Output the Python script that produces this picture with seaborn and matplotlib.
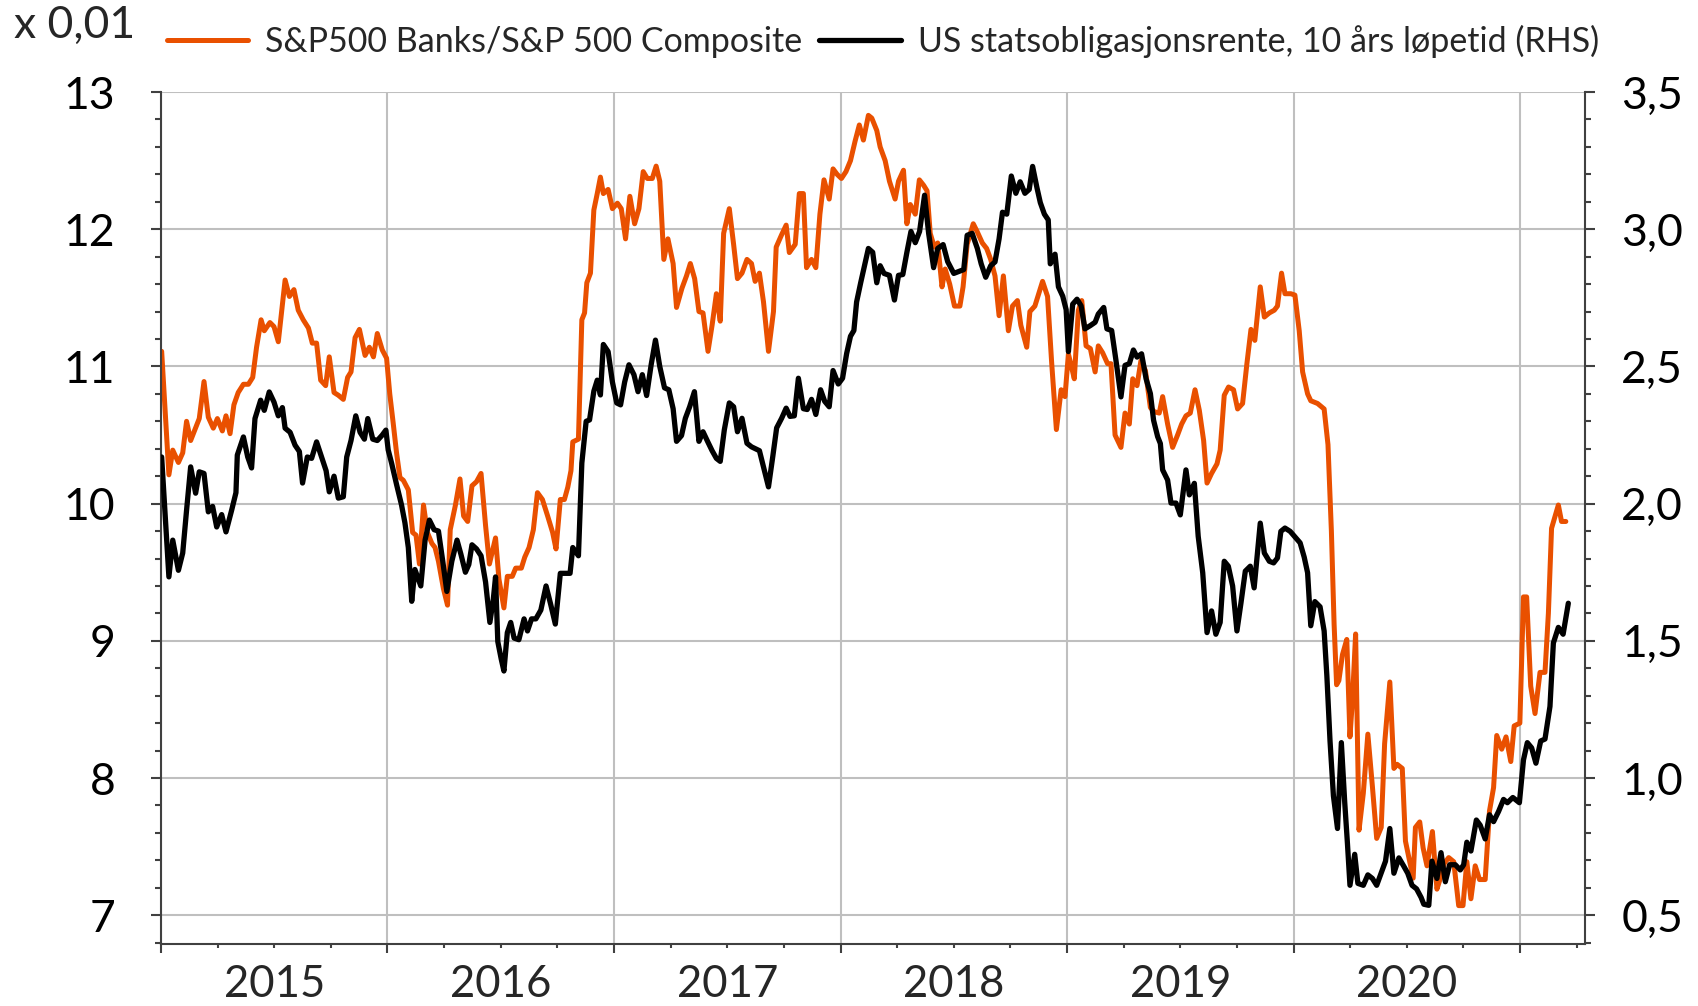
import matplotlib
matplotlib.use("Agg")
import matplotlib.pyplot as plt
import matplotlib.ticker as mticker
import seaborn as sns
import numpy as np
import pandas as pd

# Tid i år etter 1. jan 2015 (lest av grafen) og verdier
banks_t = [0.003, 0.035, 0.052, 0.077, 0.096, 0.113, 0.131, 0.169, 0.190, 0.209, 0.231, 0.249, 0.271, 0.287,
           0.305, 0.322, 0.341, 0.364, 0.386, 0.405, 0.422, 0.442, 0.456, 0.481, 0.499, 0.518, 0.548, 0.567,
           0.587, 0.606, 0.628, 0.651, 0.668, 0.687, 0.705, 0.727, 0.743, 0.764, 0.783, 0.805, 0.824, 0.839,
           0.857, 0.876, 0.901, 0.920, 0.938, 0.955, 0.977, 0.996, 1.010, 1.025, 1.040, 1.055, 1.070, 1.092,
           1.111, 1.126, 1.141, 1.159, 1.176, 1.196, 1.210, 1.225, 1.247, 1.265, 1.277, 1.300, 1.320, 1.336,
           1.354, 1.373, 1.393, 1.413, 1.433, 1.450, 1.477, 1.492, 1.514, 1.529, 1.551, 1.566, 1.591, 1.606,
           1.625, 1.644, 1.662, 1.684, 1.707, 1.729, 1.744, 1.763, 1.781, 1.796, 1.810, 1.818, 1.843, 1.858,
           1.870, 1.880, 1.896, 1.911, 1.926, 1.940, 1.953, 1.974, 1.993, 2.015, 2.032, 2.051, 2.070, 2.091,
           2.110, 2.129, 2.147, 2.169, 2.186, 2.202, 2.220, 2.238, 2.261, 2.276, 2.300, 2.320, 2.337, 2.356,
           2.375, 2.393, 2.415, 2.433, 2.452, 2.469, 2.484, 2.509, 2.528, 2.545, 2.565, 2.587, 2.607, 2.623,
           2.642, 2.660, 2.682, 2.704, 2.716, 2.740, 2.760, 2.774, 2.800, 2.818, 2.836, 2.850, 2.872, 2.891,
           2.909, 2.927, 2.950, 2.967, 2.985, 3.004, 3.024, 3.044, 3.064, 3.083, 3.101, 3.123, 3.138, 3.160,
           3.175, 3.197, 3.216, 3.241, 3.256, 3.278, 3.293, 3.308, 3.330, 3.348, 3.367, 3.382, 3.396, 3.414,
           3.429, 3.448, 3.462, 3.482, 3.503, 3.527, 3.541, 3.559, 3.586, 3.604, 3.626, 3.645, 3.663, 3.682,
           3.700, 3.719, 3.741, 3.759, 3.781, 3.796, 3.822, 3.836, 3.858, 3.877, 3.892, 3.914, 3.932, 3.953,
           3.974, 3.991, 4.006, 4.018, 4.032, 4.050, 4.065, 4.084, 4.103, 4.124, 4.138, 4.157, 4.179, 4.194,
           4.212, 4.238, 4.256, 4.275, 4.290, 4.309, 4.326, 4.346, 4.368, 4.385, 4.407, 4.422, 4.444, 4.466,
           4.488, 4.506, 4.525, 4.544, 4.565, 4.584, 4.603, 4.618, 4.638, 4.662, 4.676, 4.694, 4.713, 4.735,
           4.753, 4.775, 4.794, 4.812, 4.829, 4.853, 4.871, 4.893, 4.915, 4.929, 4.947, 4.962, 4.988, 5.006,
           5.025, 5.040, 5.062, 5.076, 5.106, 5.135, 5.152, 5.167, 5.179, 5.190, 5.200, 5.216, 5.235, 5.249,
           5.260, 5.274, 5.289, 5.308, 5.328, 5.348, 5.367, 5.387, 5.402, 5.425, 5.443, 5.457, 5.480, 5.494,
           5.513, 5.528, 5.538, 5.557, 5.572, 5.589, 5.613, 5.633, 5.648, 5.666, 5.685, 5.707, 5.729, 5.748,
           5.765, 5.783, 5.802, 5.821, 5.846, 5.865, 5.883, 5.897, 5.919, 5.938, 5.959, 5.974, 5.999, 6.015,
           6.029, 6.047, 6.066, 6.088, 6.110, 6.125, 6.139, 6.169, 6.183, 6.202]
banks = [11.11, 10.21, 10.39, 10.30, 10.37, 10.60, 10.46, 10.62, 10.89, 10.63, 10.55, 10.62, 10.53, 10.64,
         10.51, 10.72, 10.81, 10.87, 10.87, 10.92, 11.14, 11.34, 11.26, 11.32, 11.29, 11.18, 11.63, 11.51,
         11.56, 11.41, 11.34, 11.28, 11.17, 11.17, 10.90, 10.86, 11.07, 10.81, 10.79, 10.76, 10.92, 10.96,
         11.21, 11.27, 11.08, 11.14, 11.07, 11.24, 11.12, 11.06, 10.80, 10.59, 10.37, 10.19, 10.17, 10.10,
         9.79, 9.77, 9.56, 9.99, 9.79, 9.71, 9.68, 9.58, 9.38, 9.26, 9.81, 9.99, 10.18, 9.91,
         9.87, 10.13, 10.16, 10.22, 9.84, 9.56, 9.75, 9.45, 9.24, 9.47, 9.47, 9.53, 9.53, 9.61,
         9.68, 9.81, 10.08, 10.03, 9.91, 9.79, 9.67, 10.03, 10.03, 10.12, 10.24, 10.45, 10.47, 11.34,
         11.39, 11.61, 11.68, 12.14, 12.26, 12.38, 12.26, 12.29, 12.15, 12.19, 12.15, 11.93, 12.24, 12.04,
         12.15, 12.42, 12.37, 12.37, 12.46, 12.35, 11.78, 11.93, 11.75, 11.43, 11.57, 11.66, 11.75, 11.64,
         11.40, 11.39, 11.11, 11.30, 11.53, 11.33, 11.97, 12.15, 11.89, 11.64, 11.68, 11.78, 11.75, 11.62,
         11.68, 11.47, 11.11, 11.40, 11.87, 11.96, 12.03, 11.83, 11.89, 12.26, 12.26, 11.72, 11.78, 11.72,
         12.11, 12.36, 12.22, 12.44, 12.40, 12.37, 12.42, 12.50, 12.64, 12.76, 12.65, 12.83, 12.81, 12.72,
         12.60, 12.50, 12.35, 12.22, 12.35, 12.43, 12.04, 12.18, 12.11, 12.36, 12.32, 12.28, 11.97, 11.87,
         11.90, 11.58, 11.71, 11.60, 11.44, 11.44, 11.58, 11.89, 12.04, 11.98, 11.90, 11.86, 11.78, 11.66,
         11.37, 11.66, 11.26, 11.44, 11.48, 11.30, 11.14, 11.40, 11.44, 11.54, 11.62, 11.51, 11.03, 10.54,
         10.83, 10.78, 11.09, 11.01, 10.91, 11.41, 11.48, 11.15, 11.13, 10.96, 11.15, 11.10, 11.02, 11.02,
         10.50, 10.41, 10.66, 10.58, 10.91, 10.86, 11.04, 10.97, 10.70, 10.67, 10.66, 10.78, 10.58, 10.41,
         10.50, 10.58, 10.64, 10.66, 10.83, 10.68, 10.46, 10.15, 10.22, 10.29, 10.39, 10.79, 10.85, 10.83,
         10.69, 10.73, 11.02, 11.27, 11.19, 11.58, 11.36, 11.39, 11.41, 11.44, 11.68, 11.53, 11.53, 11.52,
         11.26, 10.96, 10.80, 10.75, 10.73, 10.69, 10.43, 9.80, 9.12, 8.68, 8.71, 8.90, 9.01, 8.30,
         8.57, 9.05, 7.62, 7.89, 8.32, 7.94, 7.56, 7.64, 8.25, 8.70, 8.07, 8.10, 8.07, 7.54,
         7.39, 7.27, 7.64, 7.68, 7.49, 7.36, 7.61, 7.19, 7.27, 7.38, 7.42, 7.39, 7.07, 7.07,
         7.39, 7.12, 7.36, 7.26, 7.26, 7.76, 7.93, 8.31, 8.21, 8.30, 8.12, 8.38, 8.40, 9.32,
         9.32, 8.67, 8.47, 8.77, 8.77, 9.20, 9.82, 9.99, 9.87, 9.87]

yield_t = [0.003, 0.018, 0.035, 0.052, 0.077, 0.096, 0.113, 0.131, 0.153, 0.169, 0.190, 0.209, 0.228, 0.246,
           0.268, 0.287, 0.312, 0.331, 0.337, 0.364, 0.383, 0.400, 0.415, 0.440, 0.456, 0.478, 0.499, 0.518,
           0.536, 0.548, 0.570, 0.592, 0.611, 0.625, 0.646, 0.665, 0.687, 0.705, 0.729, 0.743, 0.764, 0.783,
           0.805, 0.820, 0.839, 0.860, 0.879, 0.898, 0.913, 0.935, 0.955, 0.977, 0.993, 1.003, 1.018, 1.040,
           1.062, 1.077, 1.092, 1.107, 1.121, 1.147, 1.166, 1.185, 1.206, 1.225, 1.244, 1.262, 1.284, 1.307,
           1.324, 1.344, 1.359, 1.373, 1.393, 1.413, 1.433, 1.452, 1.467, 1.477, 1.487, 1.502, 1.514, 1.529,
           1.544, 1.559, 1.580, 1.603, 1.618, 1.636, 1.655, 1.677, 1.700, 1.721, 1.741, 1.763, 1.788, 1.806,
           1.818, 1.843, 1.858, 1.877, 1.892, 1.911, 1.926, 1.940, 1.953, 1.974, 1.993, 2.012, 2.029, 2.047,
           2.066, 2.088, 2.106, 2.125, 2.144, 2.164, 2.183, 2.202, 2.223, 2.242, 2.261, 2.276, 2.298, 2.315,
           2.334, 2.355, 2.375, 2.393, 2.413, 2.433, 2.452, 2.469, 2.487, 2.509, 2.528, 2.545, 2.565, 2.587,
           2.607, 2.642, 2.663, 2.682, 2.701, 2.718, 2.740, 2.760, 2.777, 2.796, 2.814, 2.836, 2.853, 2.872,
           2.891, 2.912, 2.930, 2.950, 2.967, 2.990, 3.009, 3.027, 3.044, 3.059, 3.071, 3.089, 3.108, 3.123,
           3.142, 3.160, 3.175, 3.192, 3.216, 3.238, 3.256, 3.275, 3.293, 3.311, 3.330, 3.349, 3.371, 3.389,
           3.411, 3.429, 3.453, 3.473, 3.500, 3.522, 3.544, 3.559, 3.581, 3.604, 3.621, 3.641, 3.663, 3.682,
           3.700, 3.715, 3.734, 3.754, 3.774, 3.793, 3.814, 3.833, 3.848, 3.867, 3.882, 3.900, 3.917, 3.926,
           3.947, 3.962, 3.981, 3.996, 4.006, 4.025, 4.044, 4.062, 4.079, 4.103, 4.124, 4.138, 4.162, 4.176,
           4.197, 4.216, 4.238, 4.256, 4.275, 4.293, 4.309, 4.329, 4.349, 4.368, 4.382, 4.400, 4.412, 4.422,
           4.444, 4.459, 4.481, 4.500, 4.525, 4.540, 4.562, 4.579, 4.599, 4.618, 4.638, 4.657, 4.676, 4.694,
           4.712, 4.731, 4.750, 4.768, 4.787, 4.809, 4.826, 4.853, 4.871, 4.893, 4.912, 4.929, 4.944, 4.962,
           4.985, 5.010, 5.029, 5.047, 5.062, 5.076, 5.094, 5.117, 5.135, 5.147, 5.161, 5.176, 5.194, 5.211,
           5.226, 5.238, 5.249, 5.270, 5.284, 5.308, 5.328, 5.348, 5.367, 5.384, 5.406, 5.425, 5.443, 5.465,
           5.487, 5.504, 5.523, 5.543, 5.563, 5.575, 5.597, 5.611, 5.633, 5.651, 5.670, 5.689, 5.714, 5.736,
           5.751, 5.765, 5.783, 5.807, 5.824, 5.846, 5.865, 5.883, 5.905, 5.927, 5.944, 5.968, 5.997, 6.015,
           6.032, 6.051, 6.070, 6.091, 6.110, 6.132, 6.147, 6.169, 6.190, 6.213]
yield10 = [2.17, 1.965, 1.733, 1.867, 1.757, 1.82, 1.976, 2.134, 2.038, 2.116, 2.11, 1.97, 1.99, 1.915,
           1.96, 1.897, 1.976, 2.04, 2.177, 2.243, 2.17, 2.13, 2.31, 2.377, 2.34, 2.407, 2.37, 2.32,
           2.35, 2.275, 2.26, 2.213, 2.19, 2.075, 2.17, 2.165, 2.225, 2.18, 2.12, 2.043, 2.10, 2.02,
           2.025, 2.17, 2.23, 2.32, 2.26, 2.235, 2.31, 2.235, 2.23, 2.25, 2.268, 2.196, 2.148, 2.07,
           1.995, 1.93, 1.84, 1.644, 1.76, 1.70, 1.867, 1.94, 1.905, 1.90, 1.79, 1.68, 1.79, 1.867,
           1.816, 1.75, 1.778, 1.85, 1.835, 1.81, 1.714, 1.567, 1.65, 1.733, 1.497, 1.434, 1.39, 1.53,
           1.567, 1.51, 1.504, 1.58, 1.536, 1.58, 1.58, 1.612, 1.70, 1.631, 1.561, 1.746, 1.746, 1.746,
           1.84, 1.81, 2.148, 2.30, 2.305, 2.41, 2.45, 2.396, 2.58, 2.554, 2.443, 2.367, 2.36, 2.443,
           2.506, 2.47, 2.408, 2.47, 2.394, 2.506, 2.596, 2.50, 2.422, 2.415, 2.346, 2.227, 2.248, 2.311,
           2.353, 2.408, 2.227, 2.262, 2.227, 2.193, 2.165, 2.154, 2.269, 2.367, 2.353, 2.262, 2.311, 2.22,
           2.207, 2.193, 2.123, 2.061, 2.172, 2.276, 2.311, 2.348, 2.318, 2.32, 2.457, 2.346, 2.343, 2.38,
           2.325, 2.415, 2.373, 2.353, 2.485, 2.436, 2.457, 2.547, 2.61, 2.631, 2.735, 2.805, 2.874, 2.93,
           2.916, 2.805, 2.867, 2.839, 2.832, 2.742, 2.832, 2.835, 2.916, 2.992, 2.951, 2.992, 3.124, 2.985,
           2.86, 2.93, 2.944, 2.882, 2.839, 2.846, 2.853, 2.978, 2.985, 2.93, 2.874, 2.825, 2.867, 2.881,
           2.965, 3.062, 3.055, 3.194, 3.131, 3.173, 3.131, 3.145, 3.229, 3.152, 3.097, 3.055, 3.034, 2.874,
           2.909, 2.79, 2.756, 2.707, 2.554, 2.727, 2.745, 2.721, 2.637, 2.649, 2.661, 2.691, 2.715, 2.637,
           2.631, 2.522, 2.389, 2.504, 2.51, 2.56, 2.534, 2.546, 2.455, 2.401, 2.304, 2.244, 2.219, 2.123,
           2.086, 2.002, 2.002, 1.959, 2.123, 2.032, 2.074, 1.881, 1.748, 1.53, 1.609, 1.524, 1.567, 1.79,
           1.772, 1.70, 1.536, 1.639, 1.754, 1.772, 1.693, 1.929, 1.82, 1.79, 1.784, 1.802, 1.899, 1.911,
           1.899, 1.875, 1.857, 1.805, 1.748, 1.555, 1.643, 1.624, 1.536, 1.373, 1.135, 0.935, 0.816, 1.129,
           0.91, 0.76, 0.609, 0.722, 0.616, 0.609, 0.647, 0.634, 0.609, 0.647, 0.697, 0.816, 0.653, 0.709,
           0.678, 0.653, 0.609, 0.596, 0.565, 0.54, 0.536, 0.697, 0.634, 0.728, 0.622, 0.684, 0.684, 0.665,
           0.684, 0.766, 0.734, 0.847, 0.828, 0.778, 0.866, 0.841, 0.878, 0.922, 0.91, 0.929, 0.91, 1.066,
           1.129, 1.11, 1.054, 1.135, 1.142, 1.261, 1.492, 1.549, 1.524, 1.637]

years = [2015, 2016, 2017, 2018, 2019, 2020]
banks_label = "S&P500 Banks/S&P 500 Composite"
yield_label = "US statsobligasjonsrente, 10 års løpetid (RHS)"

orange = "#E95000"
grid_col = "#BFBFBF"
spine_col = "#404040"

sns.set_style("white")
plt.rcParams["font.family"] = ["Lato", "DejaVu Sans"]

df_banks = pd.DataFrame({"t": 2015 + np.array(banks_t), "v": banks})
df_yield = pd.DataFrame({"t": 2015 + np.array(yield_t), "v": yield10})

fig = plt.figure(figsize=(16.98, 10.06), dpi=100)
ax = fig.add_axes([0.0948, 0.0616, 0.8387, 0.8469])
ax2 = ax.twinx()

sns.lineplot(data=df_banks, x="t", y="v", ax=ax, color=orange, linewidth=3.6,
             estimator=None, sort=False, label=banks_label, legend=False)
sns.lineplot(data=df_yield, x="t", y="v", ax=ax2, color="black", linewidth=3.8,
             estimator=None, sort=False, label=yield_label, legend=False)

# akser
ax.set_xlim(2015, 2021.287)
ax.set_ylim(6.79, 13)
ax2.set_ylim(0.395, 3.5)
ax.set_xlabel("")
ax.set_ylabel("")
ax2.set_ylabel("")

ax.yaxis.set_major_locator(mticker.MultipleLocator(1))
ax.yaxis.set_minor_locator(mticker.MultipleLocator(0.2))
ax2.yaxis.set_major_locator(mticker.MultipleLocator(0.5))
ax2.yaxis.set_minor_locator(mticker.MultipleLocator(0.1))
ax2.yaxis.set_major_formatter(mticker.FuncFormatter(lambda v, p: f"{v:.1f}".replace(".", ",")))

ax.xaxis.set_major_locator(mticker.MultipleLocator(1))
ax.xaxis.set_minor_locator(mticker.MultipleLocator(0.25))
ax.xaxis.set_major_formatter(mticker.NullFormatter())

ax.grid(True, axis="y", which="major", color=grid_col, linewidth=1.5)
ax.grid(True, axis="x", which="major", color=grid_col, linewidth=1.5)
ax.set_axisbelow(True)

for a in (ax, ax2):
    for s in a.spines.values():
        s.set_color(spine_col)
        s.set_linewidth(1.5)
    a.spines["top"].set_visible(False)
ax.spines["right"].set_visible(False)
ax2.spines["left"].set_visible(False)
ax2.spines["bottom"].set_visible(False)

ax.tick_params(axis="y", which="major", direction="out", length=7, width=1.5, color=spine_col,
               labelsize=32, pad=26, left=True, labelcolor="black")
ax.tick_params(axis="y", which="minor", direction="out", length=4.3, width=1.5, color=spine_col, left=True)
ax.tick_params(axis="x", which="major", direction="out", length=6.5, width=1.5, color=spine_col, bottom=True)
ax.tick_params(axis="x", which="minor", direction="out", length=3, width=1.5, color=spine_col, bottom=True)
ax2.tick_params(axis="y", which="major", direction="out", length=7, width=1.5, color=spine_col,
                labelsize=32, pad=19, right=True, labelcolor="black")
ax2.tick_params(axis="y", which="minor", direction="out", length=4.3, width=1.5, color=spine_col, right=True)

for y in years:
    ax.text(y + 0.5, -0.048, str(y), transform=ax.get_xaxis_transform(),
            ha="center", va="center", fontsize=31.5)

fig.text(0.008, 0.975, "x 0,01", ha="left", va="center", fontsize=32)

h1, l1 = ax.get_legend_handles_labels()
h2, l2 = ax2.get_legend_handles_labels()
fig.legend(h1 + h2, l1 + l2, loc="center", bbox_to_anchor=(0.52, 0.959), ncol=2,
           frameon=False, fontsize=24.5, handlelength=2.4, handletextpad=0.5, columnspacing=0.5)

fig.savefig("out.png", dpi=100)
